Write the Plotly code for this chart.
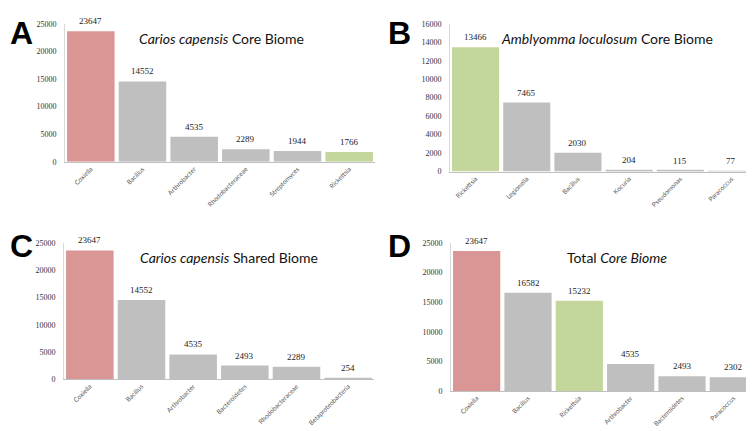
import plotly.graph_objects as go

RED = "#D99694"
GRAY = "#BFBFBF"
GREEN = "#C3D69B"

# Panel A
a_cats = ["Coxiella", "Bacillus", "Arthrobacter", "Rhodobacteraceae", "Streptomyces", "Rickettsia"]
a_vals = [23647, 14552, 4535, 2289, 1944, 1766]
a_cols = [RED, GRAY, GRAY, GRAY, GRAY, GREEN]
# Panel B
b_cats = ["Rickettsia", "Legionella", "Bacillus", "Kocuria", "Pseudomonas", "Paracoccus"]
b_vals = [13466, 7465, 2030, 204, 115, 77]
b_cols = [GREEN, GRAY, GRAY, GRAY, GRAY, GRAY]
# Panel C
c_cats = ["Coxiella", "Bacillus", "Arthrobacter", "Bacteroidetes", "Rhodobacteraceae", "Betaproteobacteria"]
c_vals = [23647, 14552, 4535, 2493, 2289, 254]
c_cols = [RED, GRAY, GRAY, GRAY, GRAY, GRAY]
# Panel D
d_cats = ["Coxiella", "Bacillus", "Rickettsia", "Arthrobacter", "Bacteroidetes", "Paracoccus"]
d_vals = [23647, 16582, 15232, 4535, 2493, 2302]
d_cols = [RED, GRAY, GREEN, GRAY, GRAY, GRAY]

panels = [
    dict(cats=a_cats, vals=a_vals, cols=a_cols, ymax=25000, dtick=5000,
         xd=[57/754, 367/754], yd=[1-153/431, 1-12/431],
         title="<i>Carios capensis</i> Core Biome", tx=214/754, letter="A", lx=0/754, ly=1-1/431),
    dict(cats=b_cats, vals=b_vals, cols=b_cols, ymax=16000, dtick=2000,
         xd=[442/754, 749/754], yd=[1-163/431, 1-12/431],
         title="<i>Amblyomma loculosum</i> Core Biome", tx=599/754, letter="B", lx=378/754, ly=1-1/431),
    dict(cats=c_cats, vals=c_vals, cols=c_cols, ymax=25000, dtick=5000,
         xd=[56/754, 366/754], yd=[1-375/431, 1-236/431],
         title="<i>Carios capensis</i> Shared Biome", tx=221/754, letter="C", lx=0/754, ly=1-219/431),
    dict(cats=d_cats, vals=d_vals, cols=d_cols, ymax=25000, dtick=5000,
         xd=[443/754, 751/754], yd=[1-387/431, 1-236/431],
         title="Total <i>Core Biome</i>", tx=609/754, letter="D", lx=378/754, ly=1-219/431),
]

fig = go.Figure()
annotations = []
layout = {}
for i, p in enumerate(panels, start=1):
    xa = "x" if i == 1 else f"x{i}"
    ya = "y" if i == 1 else f"y{i}"
    fig.add_trace(go.Bar(
        x=p["cats"], y=p["vals"], marker=dict(color=p["cols"], line=dict(width=0)),
        xaxis=xa, yaxis=ya, showlegend=False, hoverinfo="x+y",
    ))
    for c, v in zip(p["cats"], p["vals"]):
        annotations.append(dict(
            x=c, y=v, xref=xa, yref=ya, text=str(v), showarrow=False,
            yanchor="bottom", yshift=3,
            font=dict(family="Liberation Serif", size=9, color="#222222"),
        ))
    annotations.append(dict(
        x=p["tx"], y=p["yd"][1] - 4/431, xref="paper", yref="paper", text=p["title"],
        showarrow=False, xanchor="center", yanchor="top",
        font=dict(family="Lato", size=14, color="#111111"),
    ))
    annotations.append(dict(
        x=p["lx"], y=p["ly"], xref="paper", yref="paper", text="<b>" + p["letter"] + "</b>",
        showarrow=False, xanchor="left", yanchor="top",
        font=dict(family="Liberation Sans", size=32, color="#000000"),
    ))
    xkey = "xaxis" if i == 1 else f"xaxis{i}"
    ykey = "yaxis" if i == 1 else f"yaxis{i}"
    layout[xkey] = dict(
        domain=p["xd"], anchor=ya, showline=True, linecolor="#BFBFBF", linewidth=1,
        showgrid=False, ticks="", tickangle=-45, ticklabelstandoff=0,
        tickfont=dict(family="Lato", size=6.5, color="#595959"),
    )
    layout[ykey] = dict(
        domain=p["yd"], anchor=xa, range=[0, p["ymax"]], dtick=p["dtick"], tickformat="d",
        showline=True, linecolor="#D9D9D9", linewidth=1, showgrid=False, zeroline=False,
        ticks="", tickfont=dict(family="Liberation Serif", size=8, color="#333333"),
        ticklabelstandoff=6,
    )

fig.update_layout(
    width=754, height=431, margin=dict(l=0, r=0, t=0, b=0),
    paper_bgcolor="white", plot_bgcolor="white", bargap=0.08,
    annotations=annotations, **layout,
)
fig.write_html("out.html")
